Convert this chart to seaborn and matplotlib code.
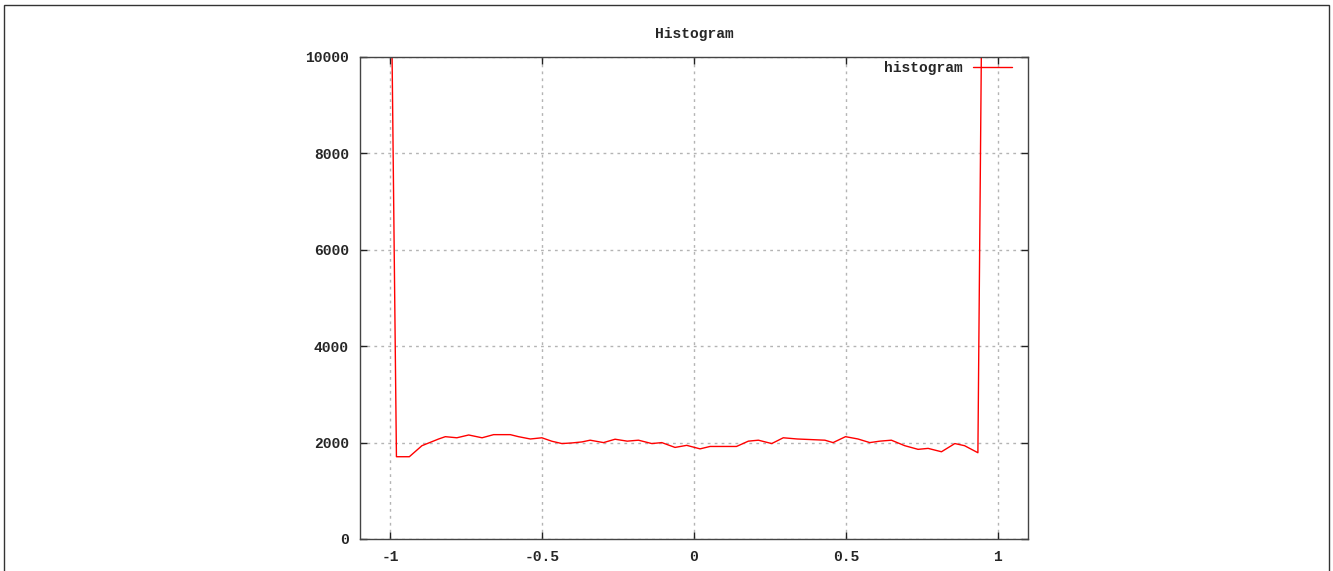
import matplotlib
matplotlib.use("Agg")
import matplotlib.pyplot as plt
from matplotlib.patches import Rectangle
import seaborn as sns
import pandas as pd

# Data
bin_x = [-1.0, -0.98, -0.9375, -0.896, -0.841, -0.819, -0.781, -0.742, -0.698,
         -0.66, -0.605, -0.578, -0.539, -0.501, -0.468, -0.435, -0.402, -0.369,
         -0.342, -0.298, -0.26, -0.22, -0.183, -0.139, -0.106, -0.0625, -0.024,
         0.02, 0.053, 0.14, 0.179, 0.212, 0.256, 0.294, 0.34, 0.431, 0.458,
         0.499, 0.54, 0.579, 0.612, 0.65, 0.694, 0.738, 0.771, 0.815, 0.859,
         0.891, 0.935, 0.96]
counts = [13300, 1707, 1707, 1936, 2075, 2123, 2100, 2158, 2100,
          2165, 2165, 2123, 2075, 2100, 2028, 1980, 1993, 2014,
          2050, 2000, 2070, 2030, 2050, 1980, 2000, 1900, 1943,
          1870, 1920, 1920, 2030, 2050, 1980, 2100, 2075, 2050, 2000,
          2123, 2075, 2000, 2030, 2050, 1936, 1860, 1880, 1810, 1980,
          1936, 1790, 20000]
x_ticks = [-1, -0.5, 0, 0.5, 1]
x_tick_labels = ["-1", "-0.5", "0", "0.5", "1"]
y_ticks = [0, 2000, 4000, 6000, 8000, 10000]
title = "Histogram"
series_name = "histogram"

df = pd.DataFrame({"x": bin_x, "count": counts})

sns.set_style("white")
FAM = "Liberation Mono"
FS = 10.5
font = {"family": FAM, "weight": "bold", "size": FS}

fig = plt.figure(figsize=(13.33, 5.71), dpi=100)
ax = fig.add_axes([360 / 1333, 1 - 539 / 571, 668 / 1333, 482 / 571])

sns.lineplot(data=df, x="x", y="count", ax=ax, color="#ff0000", lw=1.0,
             label=series_name, sort=False, estimator=None)

ax.set_xlim(-1.1, 1.1)
ax.set_ylim(0, 10000)
ax.set_xticks(x_ticks)
ax.set_xticklabels(x_tick_labels, fontdict=font)
ax.set_yticks(y_ticks)
ax.set_yticklabels([str(v) for v in y_ticks], fontdict=font)
ax.set_xlabel("")
ax.set_ylabel("")
ax.grid(True, color="#b4b4b4", linestyle=(0, (2, 3)), linewidth=1.0)
ax.tick_params(direction="in", length=5, width=1, color="#222222",
               top=True, right=True, bottom=True, left=True, pad=8)
for s in ax.spines.values():
    s.set_color("#444444")
    s.set_linewidth(1.0)
    s.set_visible(True)

ax.set_title(title, fontdict=font, pad=14)

leg = ax.legend(loc="center right", bbox_to_anchor=(0.976, 0.977),
                frameon=False, markerfirst=False, handlelength=2.67,
                handletextpad=0.68, borderpad=0, borderaxespad=0,
                prop={"family": FAM, "weight": "bold", "size": FS})

fig.patches.append(Rectangle((4 / 1333, -0.05), (1329 - 4) / 1333, 1.05 - 5 / 571,
                             transform=fig.transFigure, fill=False,
                             edgecolor="#333333", linewidth=1.0))

fig.savefig("out.png", dpi=100)
